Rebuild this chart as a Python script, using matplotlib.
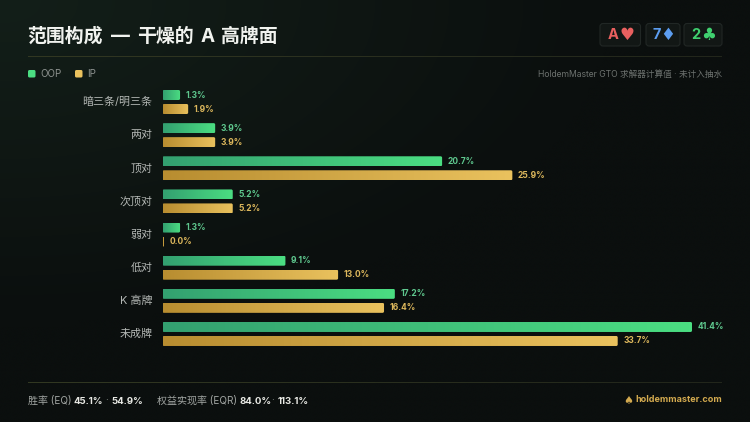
import numpy as np
import matplotlib
matplotlib.use("Agg")
import matplotlib.pyplot as plt
from matplotlib.patches import FancyBboxPatch

plt.rcParams['font.family'] = ['Inter', 'Noto Sans CJK SC', 'DejaVu Sans']

# Datos
categories = ["暗三条/明三条", "两对", "顶对", "次顶对", "弱对", "低对", "K 高牌", "未成牌"]
oop_values = [1.3, 3.9, 20.7, 5.2, 1.3, 9.1, 17.2, 41.4]
ip_values = [1.9, 3.9, 25.9, 5.2, 0.0, 13.0, 16.4, 33.7]
series_names = ["OOP", "IP"]
x_max = 39.2   # las barras se cortan aqui, 41.4 no cabe en la escala

W, H = 750, 422
GREEN_D, GREEN_L = "#33a070", "#4bde82"
GOLD_D, GOLD_L = "#b88d30", "#eac25e"

fig = plt.figure(figsize=(W / 100, H / 100), dpi=100)

# Fondo
bg = fig.add_axes([0, 0, 1, 1])
bg.set_xlim(0, W)
bg.set_ylim(H, 0)
bg.axis('off')
yy, xx = np.mgrid[0:1:60j, 0:1:100j]
glow = np.clip(1 - np.hypot(xx / 0.8, yy / 0.75), 0, 1)
base = np.array([11, 15, 14]) / 255
tint = np.array([8, 16, 11]) / 255
img = base[None, None, :] + glow[..., None] * tint[None, None, :]
bg.imshow(img, extent=(0, W, H, 0), aspect='auto', interpolation='bicubic')


def hline(y):
    grad = np.linspace(0, 1, 200)[None, :, None]
    c0, c1 = np.array([50, 56, 34]) / 255, np.array([34, 38, 27]) / 255
    bg.imshow(c0 + grad * (c1 - c0), extent=(28, 722, y + 0.5, y - 0.5), aspect='auto')


hline(57)
hline(383)
bg.set_xlim(0, W)
bg.set_ylim(H, 0)

# Titulo, por trozos porque los espacios del original son mas anchos
title_parts = [(27.5, "范围构成"), (111, "—"), (137.5, "干燥的"), (201, "A"), (221, "高牌面")]
for x, s in title_parts:
    bg.text(x, 42, s, color="#f1f3ef", fontsize=13.6, fontweight='bold', va='baseline', ha='left')

# Cartas: x0, x1, x del rango, centro del palo
chips = [(600, 640.5, 607.5, 626.5, "A", "♥", "#e9605f"),
         (646, 680, 652.5, 667.5, "7", "♦", "#5c9df0"),
         (684, 722, 691, 708.5, "2", "♣", "#3fd06f")]
for x0, x1, rx, sx, rank, suit, col in chips:
    bg.add_patch(FancyBboxPatch((x0, 23.5), x1 - x0, 22.5, boxstyle="round,pad=0,rounding_size=3",
                                fc="#121715", ec="#212725", lw=0.8))
    bg.text(rx, 35, rank, color=col, fontsize=10.5, fontweight='bold', va='center', ha='left')
    bg.text(sx, 35, suit, color=col, fontsize=12, va='center', ha='center', family='DejaVu Sans')

# Leyenda
for lx, tx, name, col in [(28, 40, series_names[0], GREEN_L), (75, 87, series_names[1], GOLD_L)]:
    bg.add_patch(FancyBboxPatch((lx, 70), 7.5, 7.5, boxstyle="round,pad=0,rounding_size=1.5", fc=col, ec='none'))
    bg.text(tx, 73.8, name, color="#8d928f", fontsize=7, va='center', ha='left')
bg.text(722, 74, "HoldemMaster GTO 求解器计算值 · 未计入抽水", color="#6d726f", fontsize=6.2,
        va='center', ha='right')

# Barras
ax = fig.add_axes([162.5 / W, 0, (692 - 162.5) / W, 1])
ax.set_xlim(0, x_max)
ax.set_ylim(H, 0)
ax.axis('off')
ax.patch.set_alpha(0)

y_first = 102.0
step = 33.14
px = (692 - 162.5) / x_max   # pixeles por unidad


def grad_bar(v, yc, c0, c1):
    v_draw = min(v, x_max)
    c0 = np.array(matplotlib.colors.to_rgb(c0))
    c1 = np.array(matplotlib.colors.to_rgb(c1))
    t = np.linspace(0, 1, 128)[None, :, None]
    w = max(v_draw, 1.5 / px)
    im = ax.imshow(c0 + t * (c1 - c0), extent=(0, w, yc + 5, yc - 5), aspect='auto', zorder=2)
    r = min(1.5, w * px / 2)
    clip = FancyBboxPatch((0, yc - 5), w, 10, boxstyle=f"round,pad=0,rounding_size={r / px}",
                          mutation_aspect=px, fc='none', ec='none', transform=ax.transData)
    ax.add_patch(clip)
    im.set_clip_path(clip)
    return w


for i, cat in enumerate(categories):
    yc = y_first + i * step
    bg.text(152.5, yc, cat, color="#b4b8b5", fontsize=7.9, va='center', ha='right')
    w = grad_bar(oop_values[i], yc - 7, GREEN_D, GREEN_L)
    ax.text(w + 5.5 / px, yc - 7, f"{oop_values[i]:.1f}%", color="#5fc98f", fontsize=6.1,
            fontweight='bold', va='center', ha='left', clip_on=False)
    w = grad_bar(ip_values[i], yc + 7, GOLD_D, GOLD_L)
    ax.text(w + 5.5 / px, yc + 7, f"{ip_values[i]:.1f}%", color="#dcb75c", fontsize=6.1,
            fontweight='bold', va='center', ha='left', clip_on=False)
ax.set_xlim(0, x_max)
ax.set_ylim(H, 0)

# Pie
foot = [(28, "胜率 (EQ)", "#a2a6a3", 'normal', 7.2), (73.5, "45.1%", "#e8e9e4", 'bold', 6.9),
        (105.5, "·", "#7d817e", 'normal', 7.2), (111.5, "54.9%", "#e8e9e4", 'bold', 6.9),
        (157, "权益实现率 (EQR)", "#a2a6a3", 'normal', 7.2), (239, "84.0%", "#e8e9e4", 'bold', 6.9),
        (271.5, "·", "#7d817e", 'normal', 7.2), (277.5, "113.1%", "#e8e9e4", 'bold', 6.9)]
for x, s, col, fw, fs in foot:
    bg.text(x, 403.5, s, color=col, fontsize=fs, fontweight=fw, va='baseline', ha='left')
bg.text(722, 400, "holdemmaster.com", color="#d3aa4f", fontsize=6.5, fontweight='bold', va='center', ha='right')
bg.text(633.5, 400.5, "♠", color="#d3aa4f", fontsize=8, va='center', ha='right', family='DejaVu Sans')

fig.savefig("out.png", dpi=100)
